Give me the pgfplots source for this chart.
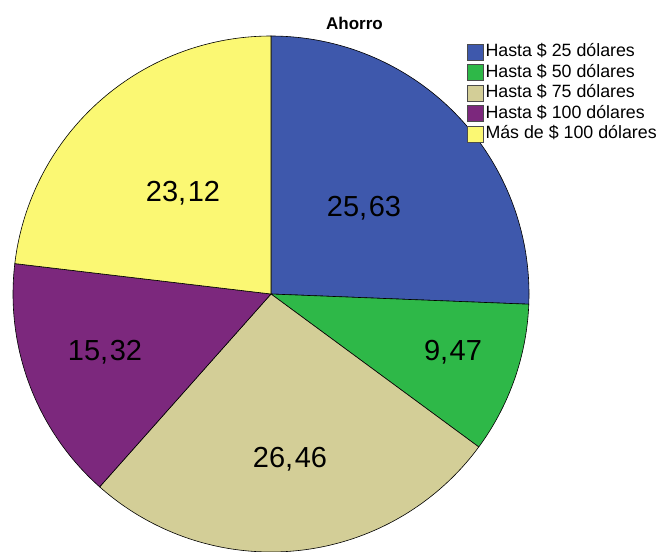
\documentclass[border=0pt]{standalone}
\usepackage{pgfplots}
\pgfplotsset{compat=1.18}
\usepackage{fontspec}
\setmainfont{Liberation Sans}
\definecolor{c1}{HTML}{3E58AC}
\definecolor{c2}{HTML}{2EB848}
\definecolor{c3}{HTML}{D3CE97}
\definecolor{c4}{HTML}{7C287D}
\definecolor{c5}{HTML}{FBF873}
\newcommand{\cm}{,\kern1.5pt}
\begin{document}
\begin{tikzpicture}
\path[use as bounding box] (0,0) rectangle (660pt,551pt);
% percentages
\def\pA{25.63}\def\pB{9.47}\def\pC{26.46}\def\pD{15.32}\def\pE{23.12}
\pgfmathsetmacro\aA{90}
\pgfmathsetmacro\aB{\aA-3.6*\pA}
\pgfmathsetmacro\aC{\aB-3.6*\pB}
\pgfmathsetmacro\aD{\aC-3.6*\pC}
\pgfmathsetmacro\aE{\aD-3.6*\pE}
\pgfmathsetmacro\aE{\aD-3.6*\pD}
\pgfmathsetmacro\aF{\aE-3.6*\pE}
\begin{axis}[
  at={(0,0)}, anchor=south west,
  scale only axis, width=660pt, height=551pt,
  xmin=0, xmax=660, ymin=0, ymax=551,
  hide axis, clip=true,
  legend style={at={(464/660,1-39.5/551)}, anchor=north west, draw=none, fill=none,
    font=\fontsize{17.8}{20}\selectfont, row sep=0pt,
    nodes={inner xsep=1.5pt, inner ysep=1pt, text height=14pt, text depth=4.5pt}},
  legend cell align=left,
  legend image code/.code={\draw[#1,draw=black!70,line width=0.8pt] (0pt,-8pt) rectangle (16pt,8pt);},
]
\addplot[fill=c1, draw=black, line width=0.6pt, domain=\aB:\aA, samples=120, variable=\t]
  ({271+258*cos(\t)},{257+258*sin(\t)}) -- (271,257) -- cycle;
\addlegendentry{Hasta \$ 25 dólares}
\addplot[fill=c2, draw=black, line width=0.6pt, domain=\aC:\aB, samples=60, variable=\t]
  ({271+258*cos(\t)},{257+258*sin(\t)}) -- (271,257) -- cycle;
\addlegendentry{Hasta \$ 50 dólares}
\addplot[fill=c3, draw=black, line width=0.6pt, domain=\aD:\aC, samples=120, variable=\t]
  ({271+258*cos(\t)},{257+258*sin(\t)}) -- (271,257) -- cycle;
\addlegendentry{Hasta \$ 75 dólares}
\addplot[fill=c4, draw=black, line width=0.6pt, domain=\aE:\aD, samples=80, variable=\t]
  ({271+258*cos(\t)},{257+258*sin(\t)}) -- (271,257) -- cycle;
\addlegendentry{Hasta \$ 100 dólares}
\addplot[fill=c5, draw=black, line width=0.6pt, domain=\aF:\aE, samples=100, variable=\t]
  ({271+258*cos(\t)},{257+258*sin(\t)}) -- (271,257) -- cycle;
\addlegendentry{Más de \$ 100 dólares}
\begin{scope}[every node/.style={font=\fontsize{29}{30}\selectfont, inner sep=0pt}]
\node at (364,551-208) {25\cm63};
\node at (453,551-352) {9\cm47};
\node at (290,551-459) {26\cm46};
\node at (105,551-352) {15\cm32};
\node at (183,551-193) {23\cm12};
\end{scope}
\node[font=\bfseries\fontsize{17}{18}\selectfont, inner sep=0pt] at (354.5,551-23) {Ahorro};
\end{axis}
\end{tikzpicture}
\end{document}
